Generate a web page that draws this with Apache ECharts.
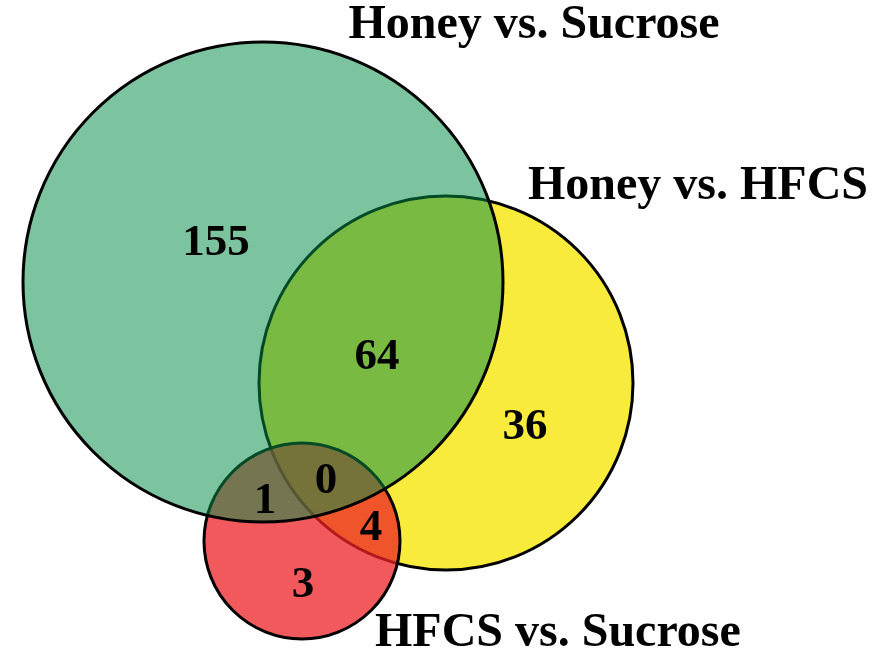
<!DOCTYPE html>
<html>
<head>
<meta charset="utf-8">
<script src="https://cdn.jsdelivr.net/npm/echarts@6/dist/echarts.min.js"></script>
<style>
  html, body { margin: 0; padding: 0; background: #fff; }
  #venn { width: 884px; height: 660px; }
</style>
</head>
<body>
<div id="venn"></div>
<script>
// the three comparisons: circle centre + radius in chart units
var setNames = ['Honey vs. Sucrose', 'Honey vs. HFCS', 'HFCS vs. Sucrose'];
var setX = [263, 446, 302];
var setY = [282, 383, 541];
var setR = [240, 187, 98];

// where each set name sits
var nameX = [534, 528, 375];
var nameY = [26, 187, 634];

// counts in every region of the diagram
var regionCounts = [155, 64, 36, 1, 0, 4, 3];
var regionX = [216, 377, 525, 265, 326, 371, 303];
var regionY = [243, 357, 427, 501, 481, 528, 585];

var fills = ['rgba(3,142,72,0.52)', '#f8eb3b', 'rgba(238,34,39,0.75)'];
var layer = [3, 1, 2]; // yellow at the bottom, teal on top
var nameAlign = ['center', 'left', 'left'];
var serif = '"Liberation Serif", "Times New Roman", serif';

var chart = echarts.init(document.getElementById('venn'));

var circleData = setNames.map(function (n, i) {
  return { name: n, value: [setX[i], setY[i], setR[i]] };
});
var nameData = setNames.map(function (n, i) {
  return { name: n, value: [nameX[i], nameY[i]] };
});
var countData = regionCounts.map(function (c, i) {
  return { name: String(c), value: [regionX[i], regionY[i]] };
});

var option = {
  animation: false,
  grid: { left: 0, right: 0, top: 0, bottom: 0 },
  xAxis: { type: 'value', min: 0, max: 884, show: false },
  yAxis: { type: 'value', min: 0, max: 660, inverse: true, show: false },
  series: [
    {
      type: 'custom',
      coordinateSystem: 'cartesian2d',
      clip: false,
      data: circleData,
      renderItem: function (params, api) {
        var i = params.dataIndex;
        var c = api.coord([api.value(0), api.value(1)]);
        var r = api.size([api.value(2), api.value(2)])[0];
        return {
          type: 'circle',
          z2: layer[i],
          shape: { cx: c[0], cy: c[1], r: r },
          style: { fill: fills[i], stroke: '#000', lineWidth: 3 }
        };
      }
    },
    {
      type: 'custom',
      coordinateSystem: 'cartesian2d',
      clip: false,
      z: 5,
      data: countData,
      renderItem: function (params, api) {
        var c = api.coord([api.value(0), api.value(1)]);
        return {
          type: 'text',
          x: c[0],
          y: c[1],
          style: {
            text: countData[params.dataIndex].name,
            fill: '#000',
            font: 'bold 45px ' + serif,
            align: 'center',
            verticalAlign: 'middle'
          }
        };
      }
    },
    {
      type: 'custom',
      coordinateSystem: 'cartesian2d',
      clip: false,
      z: 5,
      data: nameData,
      renderItem: function (params, api) {
        var i = params.dataIndex;
        var c = api.coord([api.value(0), api.value(1)]);
        return {
          type: 'text',
          x: c[0],
          y: c[1],
          style: {
            text: setNames[i],
            fill: '#000',
            font: 'bold 48px ' + serif,
            align: nameAlign[i],
            verticalAlign: 'middle'
          }
        };
      }
    }
  ]
};

chart.setOption(option);
</script>
</body>
</html>
